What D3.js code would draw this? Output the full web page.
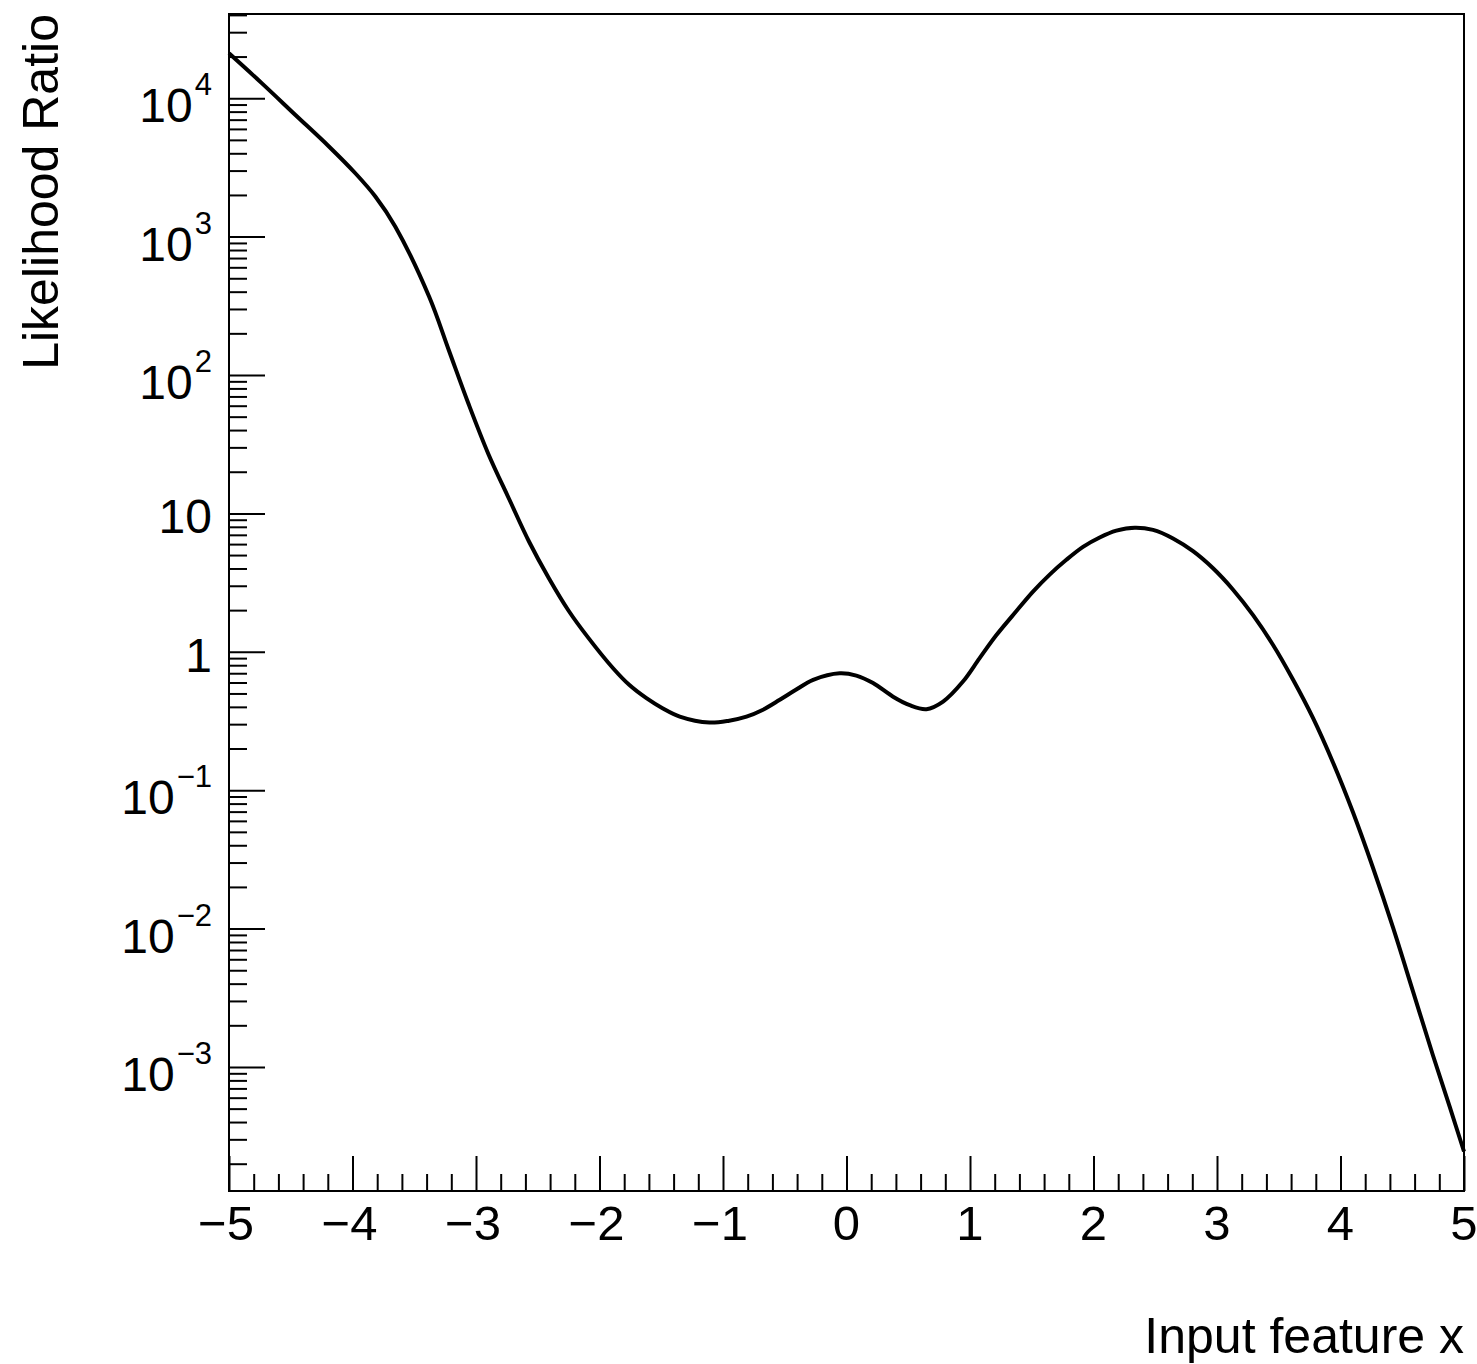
<!DOCTYPE html>
<html>
<head>
<meta charset="utf-8">
<script src="https://cdn.jsdelivr.net/npm/d3@7"></script>
<style>
  html, body { margin: 0; padding: 0; background: #ffffff; }
  svg { display: block; }
  text { font-family: "Liberation Sans", Arial, Helvetica, sans-serif; fill: #000; }
</style>
</head>
<body>
<svg id="chart" width="1477" height="1364"></svg>
<script>
// Likelihood ratio as a function of the input feature (log scale)
const featureX = [
  -5.0, -4.733, -4.462, -4.193, -3.977, -3.815, -3.653, -3.38, -3.22,
  -3.06, -2.90, -2.73, -2.57, -2.41, -2.25, -2.09, -1.89, -1.76, -1.62,
  -1.49, -1.35, -1.11, -0.95, -0.81, -0.68, -0.54, -0.41, -0.27, -0.055,
  0.08, 0.215, 0.377, 0.512, 0.647, 0.782, 0.943, 1.078, 1.214, 1.376,
  1.51, 1.645, 1.78, 1.915, 2.05, 2.185, 2.334, 2.482, 2.644, 2.806,
  2.968, 3.13, 3.292, 3.454, 3.615, 3.777, 3.94, 4.101, 4.263, 4.425,
  4.587, 4.749, 4.884, 5.0
];
const likelihoodRatio = [
  21100, 12800, 7570, 4500, 2870, 1950, 1180, 369, 151,
  61.7, 26.9, 12.6, 6.24, 3.40, 1.98, 1.26, 0.760, 0.577, 0.462,
  0.391, 0.340, 0.308, 0.318, 0.340, 0.380, 0.450, 0.531, 0.627, 0.700,
  0.673, 0.594, 0.474, 0.411, 0.385, 0.437, 0.610, 0.900, 1.32, 1.97,
  2.72, 3.61, 4.62, 5.73, 6.70, 7.50, 7.89, 7.60, 6.59, 5.33,
  4.01, 2.81, 1.84, 1.12, 0.631, 0.333, 0.158, 0.0692, 0.0275, 0.0102,
  0.00352, 0.00121, 0.000516, 0.000245
];

// Axis ranges and tick labels
const xRange = [-5, 5];
const yRange = [1.27e-4, 4.06e4];
const xMajorTicks = [-5, -4, -3, -2, -1, 0, 1, 2, 3, 4, 5];
const xTickLabels = ["\u22125", "\u22124", "\u22123", "\u22122", "\u22121", "0", "1", "2", "3", "4", "5"];
const yDecades = [-3, -2, -1, 0, 1, 2, 3, 4];
const yDecadeLabels = [
  { base: "10", sup: "\u22123" },
  { base: "10", sup: "\u22122" },
  { base: "10", sup: "\u22121" },
  { base: "1", sup: "" },
  { base: "10", sup: "" },
  { base: "10", sup: "2" },
  { base: "10", sup: "3" },
  { base: "10", sup: "4" }
];
const xTitle = "Input feature x";
const yTitle = "Likelihood Ratio";

const frame = { left: 229, right: 1464, top: 14, bottom: 1191 };

const svg = d3.select("#chart");

const x = d3.scaleLinear().domain(xRange).range([frame.left, frame.right]);
const y = d3.scaleLog().domain(yRange).range([frame.bottom, frame.top]);

// Minor ticks: every 0.2 on x, 2..9 within each decade on y
const xMinorTicks = d3.range(-50, 51, 2).map(v => v / 10).filter(v => !xMajorTicks.includes(v));
const yMinorTicks = [];
for (let e = -4; e <= 4; e++) {
  for (let m = 2; m <= 9; m++) {
    const v = m * Math.pow(10, e);
    if (v >= yRange[0] && v <= yRange[1]) yMinorTicks.push(v);
  }
}
const yMajorTicks = yDecades.map(d => Math.pow(10, d));

function styleAxis(g) {
  g.select(".domain").remove();
  g.selectAll(".tick line").attr("stroke", "#000").attr("stroke-width", 2);
  g.selectAll(".tick text").remove();
}

// x axis ticks (pointing into the frame)
svg.append("g")
  .attr("transform", `translate(0,${frame.bottom})`)
  .call(d3.axisBottom(x).tickValues(xMajorTicks).tickSize(-35).tickSizeOuter(0))
  .call(styleAxis);
svg.append("g")
  .attr("transform", `translate(0,${frame.bottom})`)
  .call(d3.axisBottom(x).tickValues(xMinorTicks).tickSize(-17).tickSizeOuter(0))
  .call(styleAxis);

// y axis ticks (pointing into the frame)
svg.append("g")
  .attr("transform", `translate(${frame.left},0)`)
  .call(d3.axisLeft(y).tickValues(yMajorTicks).tickSize(-36).tickSizeOuter(0))
  .call(styleAxis);
svg.append("g")
  .attr("transform", `translate(${frame.left},0)`)
  .call(d3.axisLeft(y).tickValues(yMinorTicks).tickSize(-18).tickSizeOuter(0))
  .call(styleAxis);

// Frame
svg.append("rect")
  .attr("x", frame.left).attr("y", frame.top)
  .attr("width", frame.right - frame.left)
  .attr("height", frame.bottom - frame.top)
  .attr("fill", "none").attr("stroke", "#000").attr("stroke-width", 2);

// x tick labels
svg.append("g").selectAll("text")
  .data(xMajorTicks)
  .join("text")
  .attr("x", d => x(d) + (d < 0 ? -3 : 0))
  .attr("y", frame.bottom + 49)
  .attr("text-anchor", "middle")
  .attr("font-size", 49)
  .text((d, i) => xTickLabels[i]);

// y tick labels (powers of ten with superscripts)
const yLab = svg.append("g").selectAll("text")
  .data(yDecades)
  .join("text")
  .attr("x", 212)
  .attr("y", (d, i) => y(Math.pow(10, d)) + (yDecadeLabels[i].sup ? 24 : 20))
  .attr("text-anchor", "end")
  .attr("font-size", 48);
yLab.append("tspan").text((d, i) => yDecadeLabels[i].base);
yLab.filter((d, i) => yDecadeLabels[i].sup !== "")
  .append("tspan")
  .attr("font-size", 31)
  .attr("dx", 2)
  .attr("dy", -27)
  .text(d => yDecadeLabels[yDecades.indexOf(d)].sup);

// Axis titles
svg.append("text")
  .attr("x", frame.right)
  .attr("y", 1353)
  .attr("text-anchor", "end")
  .attr("font-size", 50)
  .text(xTitle);
svg.append("text")
  .attr("transform", `translate(58,${frame.top}) rotate(-90)`)
  .attr("text-anchor", "end")
  .attr("font-size", 50)
  .text(yTitle);

// Curve
const points = featureX.map((v, i) => [v, likelihoodRatio[i]]);
const line = d3.line()
  .x(d => x(d[0]))
  .y(d => y(d[1]))
  .curve(d3.curveCatmullRom.alpha(0.5));
svg.append("path")
  .datum(points)
  .attr("d", line)
  .attr("fill", "none")
  .attr("stroke", "#000")
  .attr("stroke-width", 4)
  .attr("stroke-linejoin", "round");
</script>
</body>
</html>
